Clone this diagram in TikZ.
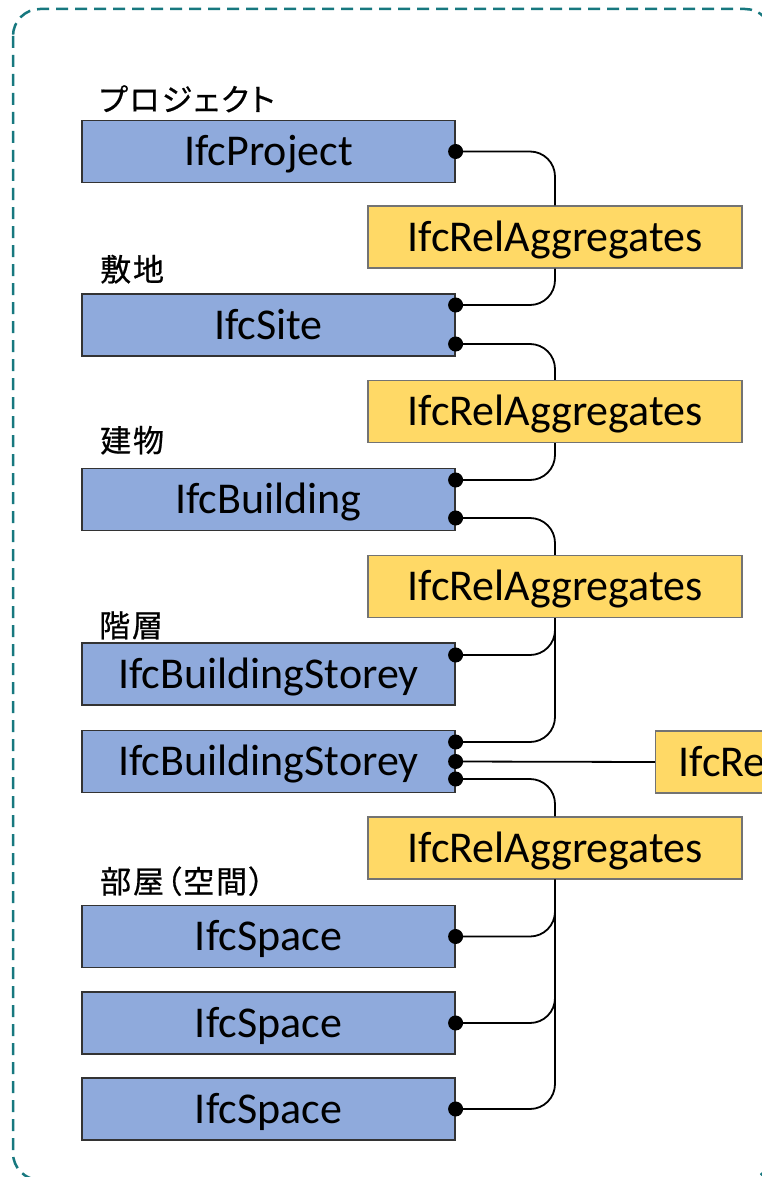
\documentclass[tikz,border=0pt]{standalone}
\usepackage{fontspec}
\setmainfont{Carlito}
\newfontfamily\jp[FakeBold=0.6, RawFeature=+palt, LetterSpace=6]{Noto Sans CJK JP}
\usetikzlibrary{calc}
\definecolor{boxblue}{HTML}{8FAADC}
\definecolor{boxyellow}{HTML}{FFD966}
\definecolor{frameteal}{HTML}{17787F}
\begin{document}
\begin{tikzpicture}[x=1pt,y=-1pt,
  ent/.style={draw=black!80, line width=1.2pt, fill=boxblue, minimum width=373pt, minimum height=62pt,
    inner sep=0pt, text height=28pt, text depth=0pt, font=\fontsize{44}{52}\selectfont},
  rel/.style={ent, fill=boxyellow, draw=black!55, minimum width=374pt},
  lab/.style={anchor=base west, inner sep=0pt, font=\jp\fontsize{31}{36}\selectfont},
  conn/.style={line width=1.8pt, rounded corners=25pt},
  dotn/.style={circle, fill=black, inner sep=0pt, minimum size=15pt}
]
\useasboundingbox (0,0) rectangle (762,1177);
\clip (0,0) rectangle (762,1177);
\draw[frameteal, line width=2.5pt, dash pattern=on 12pt off 7pt, rounded corners=27pt] (13,9) rectangle (772,1180);

% entity boxes
\node[ent] (proj) at (268.5,151.5) {IfcProject};
\node[ent] (site) at (268.5,325) {IfcSite};
\node[ent] (bld)  at (268.5,499.5) {IfcBuilding};
\node[ent] (st1)  at (268.5,674) {IfcBuildingStorey};
\node[ent] (st2)  at (268.5,761.5) {IfcBuildingStorey};
\node[ent] (sp1)  at (268.5,936.5) {IfcSpace};
\node[ent] (sp2)  at (268.5,1023) {IfcSpace};
\node[ent] (sp3)  at (268.5,1109) {IfcSpace};

% relationship boxes
\node[rel] (agg1) at (555,237) {IfcRelAggregates};
\node[rel] (agg2) at (555,411.5) {IfcRelAggregates};
\node[rel] (agg3) at (555,586.5) {IfcRelAggregates};
\node[rel] (agg4) at (555,848) {IfcRelAggregates};
\node[rel, anchor=west, align=left, text width=328pt, inner xsep=23pt] (relc) at (655,762) {IfcRel};

% labels
\node[lab] (lProj) at (99,111) {プロジェクト};
\node[lab] (lSite) at (100,281) {敷地};
\node[lab] (lBld)  at (100,452) {建物};
\node[lab] (lSt)   at (99,637) {階層};
\node[lab] (lSp)   at (100,893) {部屋（空間）};

% port coordinates
\coordinate (siteA) at ($(site.east)+(0,-20)$);
\coordinate (siteB) at ($(site.east)+(0,19)$);
\coordinate (bldA) at ($(bld.east)+(0,-19.5)$);
\coordinate (bldB) at ($(bld.east)+(0,18.5)$);
\coordinate (st1A) at ($(st1.east)+(0,-19)$);
\coordinate (st2A) at ($(st2.east)+(0,-19.5)$);
\coordinate (st2C) at ($(st2.east)+(0,17.5)$);

% connectors
\draw[conn] (proj.east) -| (agg1.north);
\draw[conn] (agg1.south) |- (siteA);
\draw[conn] (siteB) -| (agg2.north);
\draw[conn] (agg2.south) |- (bldA);
\draw[conn] (bldB) -| (agg3.north);
\draw[conn] (agg3.south) |- (st1A);
\draw[conn] (agg3.south) |- (st2A);
\draw[conn] (st2.east) -- (relc.west);
\draw[conn] (st2C) -| (agg4.north);
\draw[conn] (agg4.south) |- (sp1.east);
\draw[conn] (agg4.south) |- (sp2.east);
\draw[conn] (agg4.south) |- (sp3.east);

% dots
\node[dotn] (dP) at (proj.east) {};
\node[dotn] (dSA) at (siteA) {};
\node[dotn] (dSB) at (siteB) {};
\node[dotn] (dBA) at (bldA) {};
\node[dotn] (dBB) at (bldB) {};
\node[dotn] (dS1) at (st1A) {};
\node[dotn] (dS2A) at (st2A) {};
\node[dotn] (dS2B) at (st2.east) {};
\node[dotn] (dS2C) at (st2C) {};
\node[dotn] (dSp1) at (sp1.east) {};
\node[dotn] (dSp2) at (sp2.east) {};
\node[dotn] (dSp3) at (sp3.east) {};
\end{tikzpicture}
\end{document}
